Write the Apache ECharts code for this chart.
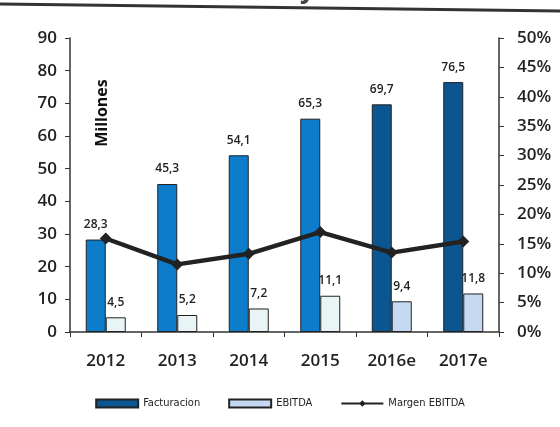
<!DOCTYPE html>
<html>
<head>
<meta charset="utf-8">
<script src="https://cdn.jsdelivr.net/npm/echarts@6/dist/echarts.min.js"></script>
<style>
  html, body { margin: 0; padding: 0; background: #fff; }
  #chart { width: 560px; height: 427px; }
</style>
</head>
<body>
<div id="chart"></div>
<script>
// Years (e = estimate)
const years = ['2012', '2013', '2014', '2015', '2016e', '2017e'];
// Revenue and EBITDA, in millions
const facturacion = [28.3, 45.3, 54.1, 65.3, 69.7, 76.5];
const ebitda = [4.5, 5.2, 7.2, 11.1, 9.4, 11.8];
// EBITDA margin, percent
const margen = [15.9, 11.5, 13.3, 17.0, 13.5, 15.4];
// Axis ranges
const leftTicks = { min: 0, max: 90, interval: 10 };
const rightTicks = { min: 0, max: 50, interval: 5 };
// Which years are estimates (drawn in darker shades)
const isEstimate = [false, false, false, false, true, true];

const FONT = '"Open Sans", "DejaVu Sans", sans-serif';
const fmt = v => String(v).replace('.', ',');

const chart = echarts.init(document.getElementById('chart'), null, { renderer: 'canvas' });

const labelStyle = {
  show: true,
  position: 'top',
  distance: 9,
  fontFamily: FONT,
  fontSize: 12,
  fontWeight: 600,
  color: '#222',
  formatter: p => fmt(p.value)
};

const axisText = { fontFamily: FONT, fontSize: 17, fontWeight: 600, color: '#222' };

chart.setOption({
  animation: false,
  backgroundColor: '#fff',
  grid: { left: 70, right: 61, top: 38, bottom: 95 },
  legend: {
    bottom: 13,
    left: 'center',
    itemWidth: 42,
    itemHeight: 8,
    itemGap: 28,
    textStyle: { fontFamily: '"Liberation Sans Narrow", "DejaVu Sans Condensed", sans-serif', fontSize: 11, color: '#222' },
    data: [
      { name: 'Facturacion', icon: 'rect' },
      { name: 'EBITDA', icon: 'rect' },
      { name: 'Margen EBITDA' }
    ]
  },
  xAxis: {
    type: 'category',
    data: years,
    axisLine: { lineStyle: { color: '#333', width: 1.5 } },
    axisTick: { show: true, length: 5, lineStyle: { color: '#333' } },
    axisLabel: Object.assign({ margin: 21 }, axisText)
  },
  yAxis: [
    {
      type: 'value',
      min: leftTicks.min, max: leftTicks.max, interval: leftTicks.interval,
      splitLine: { show: false },
      axisLine: { show: true, lineStyle: { color: '#333', width: 1.5 } },
      axisTick: { show: true, length: 5, lineStyle: { color: '#333' } },
      axisLabel: Object.assign({ margin: 13 }, axisText)
    },
    {
      type: 'value',
      position: 'right',
      min: rightTicks.min, max: rightTicks.max, interval: rightTicks.interval,
      splitLine: { show: false },
      axisLine: { show: true, lineStyle: { color: '#333', width: 1.5 } },
      axisTick: { show: true, length: 5, lineStyle: { color: '#333' } },
      axisLabel: Object.assign({ margin: 18, formatter: '{value}%' }, axisText)
    }
  ],
  series: [
    {
      name: 'Facturacion',
      type: 'bar',
      barWidth: 20,
      barGap: '0%',
      itemStyle: { color: '#0b5690', borderColor: '#222', borderWidth: 1 },
      label: labelStyle,
      data: facturacion.map((v, i) => ({
        value: v,
        itemStyle: { color: isEstimate[i] ? '#0b5690' : '#0c7ccb' }
      }))
    },
    {
      name: 'EBITDA',
      type: 'bar',
      barWidth: 20,
      barGap: '0%',
      itemStyle: { color: '#c5daf2', borderColor: '#222', borderWidth: 1 },
      label: labelStyle,
      data: ebitda.map((v, i) => ({
        value: v,
        itemStyle: { color: isEstimate[i] ? '#c5daf2' : '#e8f4f5' }
      }))
    },
    {
      name: 'Margen EBITDA',
      type: 'line',
      yAxisIndex: 1,
      data: margen,
      symbol: 'diamond',
      symbolSize: 12,
      lineStyle: { color: '#222', width: 4.5 },
      itemStyle: { color: '#222' },
      z: 5
    }
  ],
  graphic: [
    {
      type: 'line',
      shape: { x1: 0, y1: 4, x2: 560, y2: 11 },
      style: { stroke: '#333', lineWidth: 3 }
    },
    {
      type: 'text',
      left: 300,
      top: -22,
      style: { text: 'y 2017e', font: 'bold 26px "Open Sans", sans-serif', fill: '#444' }
    },
    {
      type: 'text',
      x: 102,
      y: 113,
      rotation: Math.PI / 2,
      style: {
        text: 'Millones',
        font: 'bold 16px "Open Sans", sans-serif',
        fill: '#111',
        align: 'center',
        verticalAlign: 'middle'
      }
    }
  ]
});
</script>
</body>
</html>
